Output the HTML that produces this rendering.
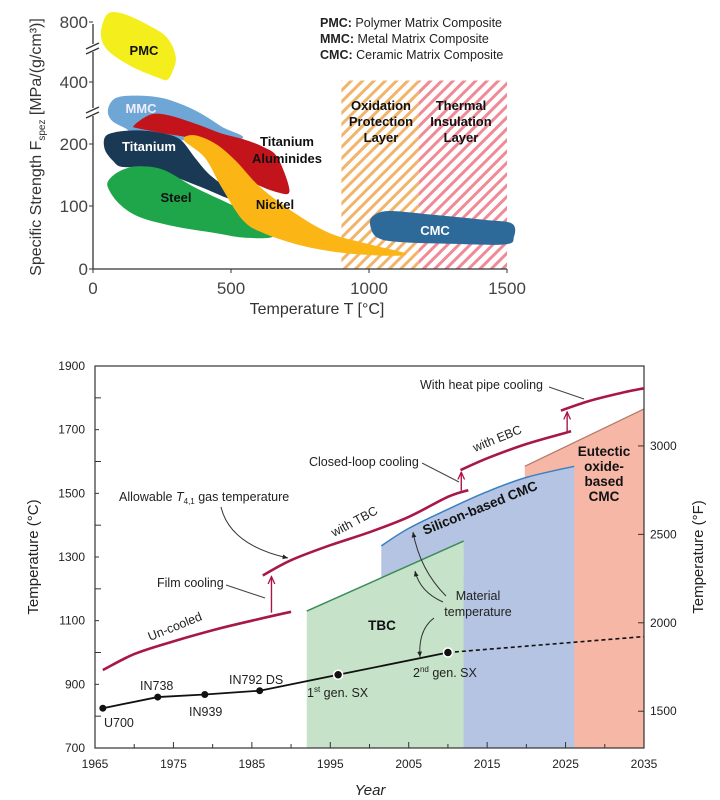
<!DOCTYPE html>
<html><head><meta charset="utf-8"><style>
html,body{margin:0;padding:0;background:#fff;}
svg{display:block;font-family:"Liberation Sans",Arial,sans-serif;}
</style></head><body>
<svg id="chart" width="720" height="800" viewBox="0 0 720 800" xmlns="http://www.w3.org/2000/svg">
<defs>
<pattern id="hatchO" patternUnits="userSpaceOnUse" width="8" height="8" patternTransform="rotate(45)"><rect width="8" height="8" fill="#fff"/><rect width="3" height="8" fill="#f2b46a"/></pattern>
<pattern id="hatchR" patternUnits="userSpaceOnUse" width="8" height="8" patternTransform="rotate(45)"><rect width="8" height="8" fill="#fff"/><rect width="3" height="8" fill="#f08a96"/></pattern>
<marker id="arrR" viewBox="0 0 10 10" refX="9" refY="5" markerWidth="6" markerHeight="6" orient="auto"><path d="M0,1 L9,5 L0,9" fill="none" stroke="#b0103f" stroke-width="1.5"/></marker>
<marker id="arrK" viewBox="0 0 10 10" refX="9" refY="5" markerWidth="6" markerHeight="6" orient="auto"><path d="M0,1 L9,5 L0,9 Z" fill="#222"/></marker>
</defs>
<g id="topchart"></g>
<g id="bot"></g>
</svg>
<script>
// ---------- TOP CHART DATA ----------
const topXTicks = [0, 500, 1000, 1500];
const topYTicks = [0, 100, 200, 400, 800];
const blobNames = ['pmc','mmc','titanium-aluminides','titanium','steel','nickel','cmc'];
const blobColors = ['#f4ee1c','#6ea6d6','#c3141c','#1a3955','#1fa64b','#fbb515','#2d6a9a'];
const pmcT = [51,105,192,267,300,285,267,242,141,54,29];
const pmcV = [851,857,787,698,565,457,413,425,502,610,718];
const mmcT = [54,80,155,257,369,466,531,192,119,69];
const mmcV = [309,347,356,347,309,256,216,216,250,275];
const tialT = [148,206,267,369,466,542,618,669,712,669,567,481,369,257,166];
const tialV = [259,294,294,266,234,216,195,178,125,122,141,173,213,234,250];
const titT = [43,80,166,257,318,369,419,481,517,492,394,267,192,105,72,43];
const titV = [222,238,244,234,213,178,152,130,115,112,130,152,163,163,173,191];
const steelT = [61,105,166,257,369,492,593,654,643,542,445,293,166,94,54];
const steelV = [144,158,164,158,130,104,83,62,50,50,57,68,83,104,130];
const nickT = [329,369,445,517,607,730,857,994,1131,1081,918,766,618,542,466,405];
const nickV = [213,228,200,173,130,89,57,40,25,21,25,36,57,78,130,178];
const cmcT = [1012,1070,1232,1417,1518,1525,1493,1294,1106,1030,1005];
const cmcV = [83,92,86,78,72,51,39,40,43,50,68];
const hatchT = [900, 1180, 1500];
const hatchTop = 410;

// ---------- BOTTOM CHART DATA ----------
const years = [1965,1975,1985,1995,2005,2015,2025,2035];
const cTicks = [700,900,1100,1300,1500,1700,1900];
const fTicks = [1500,2000,2500,3000];
const uncooledY = [1966,1970,1975,1980,1985,1990];
const uncooledT = [945,995,1035,1070,1100,1128];
const tbcLineY = [1986.4,1990,1995,2000,2005,2010,2012.6];
const tbcLineT = [1242,1290,1337,1378,1426,1489,1510];
const ebcY = [2011.6,2015,2020,2025.7];
const ebcT = [1573,1610,1655,1695];
const pipeY = [2024.4,2028,2032,2035];
const pipeT = [1760,1790,1815,1830];
const jumpYears = [1987.5, 2011.7, 2025.2];
const jumpFrom = [1125, 1508, 1695];
const jumpTo = [1245, 1573, 1762];
const tbcAreaY = [1992, 2012];
const tbcAreaT = [1130, 1350];
const siY = [2001.5,2005,2010,2015,2020,2026.1];
const siT = [1335,1390,1450,1505,1550,1585];
const eutY = [2019.8, 2035];
const eutT = [1585, 1765];
const alloyNames = ['U700','IN738','IN939','IN792 DS','1st gen. SX','2nd gen. SX'];
const alloyYear = [1966,1973,1979,1986,1996,2010];
const alloyTemp = [825,860,868,880,930,1000];
const projYear = [2010, 2035];
const projTemp = [1000, 1050];

const NS='http://www.w3.org/2000/svg';
function mk(parent, tag, attrs, text){const e=document.createElementNS(NS,tag);for(const k in attrs)e.setAttribute(k,attrs[k]);if(text!==undefined)e.textContent=text;parent.appendChild(e);return e;}

const tx = T => 93 + T*0.276;
const yKnotV=[0,100,200,400,800], yKnotP=[269,206,144,82,22];
function ty(v){let i=0;while(i<yKnotV.length-2&&v>yKnotV[i+1])i++;const f=(v-yKnotV[i])/(yKnotV[i+1]-yKnotV[i]);return yKnotP[i]+f*(yKnotP[i+1]-yKnotP[i]);}
function closedSmooth(pts){const n=pts.length;let d=`M${pts[0][0].toFixed(1)},${pts[0][1].toFixed(1)}`;for(let i=0;i<n;i++){const p0=pts[(i-1+n)%n],p1=pts[i],p2=pts[(i+1)%n],p3=pts[(i+2)%n];const c1=[p1[0]+(p2[0]-p0[0])/6,p1[1]+(p2[1]-p0[1])/6],c2=[p2[0]-(p3[0]-p1[0])/6,p2[1]-(p3[1]-p1[1])/6];d+=`C${c1[0].toFixed(1)},${c1[1].toFixed(1)} ${c2[0].toFixed(1)},${c2[1].toFixed(1)} ${p2[0].toFixed(1)},${p2[1].toFixed(1)}`;}return d+'Z';}
function openSmooth(pts){const n=pts.length;let d=`M${pts[0][0].toFixed(1)},${pts[0][1].toFixed(1)}`;for(let i=0;i<n-1;i++){const p0=pts[Math.max(i-1,0)],p1=pts[i],p2=pts[i+1],p3=pts[Math.min(i+2,n-1)];const c1=[p1[0]+(p2[0]-p0[0])/6,p1[1]+(p2[1]-p0[1])/6],c2=[p2[0]-(p3[0]-p1[0])/6,p2[1]-(p3[1]-p1[1])/6];d+=`C${c1[0].toFixed(1)},${c1[1].toFixed(1)} ${c2[0].toFixed(1)},${c2[1].toFixed(1)} ${p2[0].toFixed(1)},${p2[1].toFixed(1)}`;}return d;}

const topG=document.getElementById('topchart');
const hz1=mk(topG,'rect',{x:tx(hatchT[0]),y:ty(hatchTop),width:tx(hatchT[1])-tx(hatchT[0]),height:ty(0)-ty(hatchTop),fill:'url(#hatchO)'});


const hz2=mk(topG,'rect',{x:tx(hatchT[1]),y:ty(hatchTop),width:tx(hatchT[2])-tx(hatchT[1]),height:ty(0)-ty(hatchTop),fill:'url(#hatchR)'});


const blobTs=[pmcT,mmcT,tialT,titT,steelT,nickT,cmcT], blobVs=[pmcV,mmcV,tialV,titV,steelV,nickV,cmcV];
blobTs.forEach((Ts,k)=>{const pts=Ts.map((t,i)=>[tx(t),ty(blobVs[k][i])]);const p=mk(topG,'path',{d:closedSmooth(pts),fill:blobColors[k]});

});
const ax=mk(topG,'path',{d:`M${tx(0)},${ty(800)+2}V${ty(0)}H${tx(1500)}`,fill:'none',stroke:'#333','stroke-width':1.3});


topYTicks.forEach(v=>{mk(topG,'line',{x1:tx(0)-4,x2:tx(0),y1:ty(v),y2:ty(v),stroke:'#333'});const t=mk(topG,'text',{x:88,y:ty(v)+6,'text-anchor':'end','font-size':17,fill:'#444'},v);

});
topXTicks.forEach(v=>{mk(topG,'line',{x1:tx(v),x2:tx(v),y1:ty(0),y2:ty(0)+4,stroke:'#333'});const t=mk(topG,'text',{x:tx(v),y:294,'text-anchor':'middle','font-size':17,fill:'#444'},v);

});
[48,112].forEach(yb=>{mk(topG,'rect',{x:86,y:yb-4,width:14,height:8,fill:'#fff'});mk(topG,'line',{x1:86,y1:yb+1,x2:99,y2:yb-5,stroke:'#333','stroke-width':1.3});mk(topG,'line',{x1:86,y1:yb+6,x2:99,y2:yb,stroke:'#333','stroke-width':1.3});});
</script>
<script>
(function(){
const tg=document.getElementById('topchart');
function lbl(name,x,y,str,o){const t=mk(tg,'text',Object.assign({x:x,y:y,'text-anchor':'middle','font-size':13,'font-weight':'bold',fill:'#111'},o||{}),str);

return t;}
lbl('pmc-label',144,55,'PMC');
lbl('mmc-label',141,113,'MMC',{fill:'#eef'});
lbl('titanium-label',149,151,'Titanium',{fill:'#fff'});
lbl('steel-label',176,202,'Steel');
lbl('nickel-label',275,209,'Nickel');
lbl('titanium-aluminides-label-1',287,146,'Titanium');
lbl('titanium-aluminides-label-2',287,163,'Aluminides');
lbl('oxidation-label-1',381,110,'Oxidation');lbl('oxidation-label-2',381,126,'Protection');lbl('oxidation-label-3',381,142,'Layer');
lbl('thermal-label-1',461,110,'Thermal');lbl('thermal-label-2',461,126,'Insulation');lbl('thermal-label-3',461,142,'Layer');
lbl('cmc-label',435,235,'CMC',{fill:'#fff'});
const lg=[['PMC:',' Polymer Matrix Composite',27],['MMC:',' Metal Matrix Composite',43],['CMC:',' Ceramic Matrix Composite',59]];
lg.forEach((r,i)=>{const t=mk(tg,'text',{x:320,y:r[2],'font-size':12.5,fill:'#222'});


mk(t,'tspan',{'font-weight':'bold'},r[0]);mk(t,'tspan',{},r[1]);});
const xt=mk(tg,'text',{x:317,y:314,'text-anchor':'middle','font-size':16,fill:'#333'},'Temperature T  [°C]');


const yt=mk(tg,'text',{x:0,y:0,'text-anchor':'middle','font-size':16,fill:'#333',transform:'translate(41,147) rotate(-90)'});


mk(yt,'tspan',{},'Specific Strength F');mk(yt,'tspan',{'font-size':10,dy:4},'spez');mk(yt,'tspan',{dy:-4},'  [MPa/(g/cm³)]');
})();

(function(){
const g=document.getElementById('bot');
const bx = y => 95 + (y-1965)*(644-95)/70;
const by = c => 748 - (c-700)*(748-366)/1200;
const fy = f => by((f-32)/1.8);
const eut=mk(g,'path',{d:`M${bx(eutY[0])},${by(700)}V${by(eutT[0])}L${bx(eutY[1])},${by(eutT[1])}V${by(700)}Z`,fill:'#f6b7a7'});


mk(g,'line',{x1:bx(eutY[0]),y1:by(eutT[0]),x2:bx(eutY[1]),y2:by(eutT[1]),stroke:'#b47a68','stroke-width':1.3});
const siPts=siY.map((y,i)=>[bx(y),by(siT[i])]);
const si=mk(g,'path',{d:`M${bx(siY[0])},${by(700)}L`+openSmooth(siPts).slice(1)+`V${by(700)}Z`,fill:'#b5c4e2'});


mk(g,'path',{d:openSmooth(siPts),fill:'none',stroke:'#3a7fc0','stroke-width':1.5});
const tb=mk(g,'path',{d:`M${bx(tbcAreaY[0])},${by(700)}V${by(tbcAreaT[0])}L${bx(tbcAreaY[1])},${by(tbcAreaT[1])}V${by(700)}Z`,fill:'#c6e2c8'});


mk(g,'line',{x1:bx(tbcAreaY[0]),y1:by(tbcAreaT[0]),x2:bx(tbcAreaY[1]),y2:by(tbcAreaT[1]),stroke:'#3b8c5c','stroke-width':1.5});
const ax=mk(g,'rect',{x:bx(1965),y:by(1900),width:bx(2035)-bx(1965),height:by(700)-by(1900),fill:'none',stroke:'#333','stroke-width':1.2});


for(let c=700;c<=1900;c+=100){mk(g,'line',{x1:bx(1965),x2:bx(1965)+(c%200===100?4:6),y1:by(c),y2:by(c),stroke:'#333'});}
cTicks.forEach(c=>{const t=mk(g,'text',{x:85,y:by(c)+4,'text-anchor':'end','font-size':12,fill:'#222'},c);

});
fTicks.forEach(f=>{mk(g,'line',{x1:bx(2035)-6,x2:bx(2035),y1:fy(f),y2:fy(f),stroke:'#333'});const t=mk(g,'text',{x:650,y:fy(f)+4,'font-size':12,fill:'#222'},f);

});
for(let y=1965;y<=2035;y+=5){mk(g,'line',{x1:bx(y),x2:bx(y),y1:by(700),y2:by(700)-(y%10===5?6:4),stroke:'#333'});}
years.forEach(y=>{const t=mk(g,'text',{x:bx(y),y:768,'text-anchor':'middle','font-size':12,fill:'#222'},y);

});
const red='#a8174a';
[[uncooledY,uncooledT,'uncooled-curve'],[tbcLineY,tbcLineT,'tbc-gas-curve'],[ebcY,ebcT,'ebc-gas-curve'],[pipeY,pipeT,'heat-pipe-curve']].forEach(s=>{
const p=mk(g,'path',{d:openSmooth(s[0].map((y,i)=>[bx(y),by(s[1][i])])),fill:'none',stroke:red,'stroke-width':2.6});

});
jumpYears.forEach((y,i)=>{const l=mk(g,'line',{x1:bx(y),x2:bx(y),y1:by(jumpFrom[i]),y2:by(jumpTo[i])+2,stroke:red,'stroke-width':1.4,'marker-end':'url(#arrR)'});

});
const ml=mk(g,'polyline',{points:alloyYear.map((y,i)=>bx(y)+','+by(alloyTemp[i])).join(' '),fill:'none',stroke:'#111','stroke-width':1.8});


const pl=mk(g,'line',{x1:bx(projYear[0]),y1:by(projTemp[0]),x2:bx(projYear[1]),y2:by(projTemp[1]),stroke:'#111','stroke-width':1.6,'stroke-dasharray':'4,3'});


alloyYear.forEach((y,i)=>{const c=mk(g,'circle',{cx:bx(y),cy:by(alloyTemp[i]),r:i>=4?4.5:3.5,fill:'#111',stroke:'#fff','stroke-width':i>=4?1.5:0});

});
function tt(name,x,y,str,o){const t=mk(g,'text',Object.assign({x:x,y:y,'font-size':12.5,fill:'#222'},o||{}),str);

return t;}
tt('u700-label',104,727,'U700');tt('in738-label',140,690,'IN738');tt('in939-label',189,716,'IN939');tt('in792-label',229,684,'IN792 DS');
const g1=tt('first-gen-label',307,697,'');mk(g1,'tspan',{},'1');mk(g1,'tspan',{'font-size':8,dy:-5},'st');mk(g1,'tspan',{dy:5},' gen. SX');
const g2=tt('second-gen-label',413,677,'');mk(g2,'tspan',{},'2');mk(g2,'tspan',{'font-size':8,dy:-5},'nd');mk(g2,'tspan',{dy:5},' gen. SX');
tt('heat-pipe-label',420,389,'With heat pipe cooling');
tt('closed-loop-label',309,466,'Closed-loop cooling');
const al=tt('allowable-gas-label',119,501,'Allowable ');mk(al,'tspan',{'font-style':'italic'},'T');mk(al,'tspan',{'font-size':8,dy:3},'4,1');mk(al,'tspan',{dy:-3},' gas temperature');
tt('film-cooling-label',157,587,'Film cooling');
tt('with-ebc-label',0,0,'with EBC',{transform:'translate(475,452) rotate(-22)'});
tt('with-tbc-label',0,0,'with TBC',{transform:'translate(334,537) rotate(-28)'});
tt('uncooled-label',0,0,'Un-cooled',{transform:'translate(150,641) rotate(-22)'});
tt('silicon-cmc-label',0,0,'Silicon-based CMC',{transform:'translate(425,535) rotate(-22)','font-weight':'bold','font-size':13.5,fill:'#111'});
tt('tbc-label',382,630,'TBC',{'text-anchor':'middle','font-weight':'bold','font-size':13.5,fill:'#111'});
tt('material-label-1',478,600,'Material',{'text-anchor':'middle'});tt('material-label-2',478,616,'temperature',{'text-anchor':'middle'});
['Eutectic','oxide-','based','CMC'].forEach((s,i)=>tt('eutectic-label',604,456+i*15,s,{'text-anchor':'middle','font-weight':'bold','font-size':13.5,fill:'#111'}));
[[549,387,584,399],[422,463,459,482],[226,585,265,598]].forEach(a=>{const l=mk(g,'line',{x1:a[0],y1:a[1],x2:a[2],y2:a[3],stroke:'#444','stroke-width':1});

});
[['M221,507 Q230,545 288,558'],['M443,602 Q420,592 415,571'],['M446,596 Q420,570 413,532'],['M434,618 Q418,630 420,657']].forEach(a=>{const p=mk(g,'path',{d:a[0],fill:'none',stroke:'#333','stroke-width':1,'marker-end':'url(#arrK)'});

});
tt('left-axis-title',0,0,'Temperature   (°C)',{transform:'translate(38,557) rotate(-90)','text-anchor':'middle','font-size':15});
tt('right-axis-title',0,0,'Temperature   (°F)',{transform:'translate(703,557) rotate(-90)','text-anchor':'middle','font-size':15});
tt('x-axis-title',370,795,'Year',{'text-anchor':'middle','font-size':15,'font-style':'italic'});
})();
</script>
</body></html>
